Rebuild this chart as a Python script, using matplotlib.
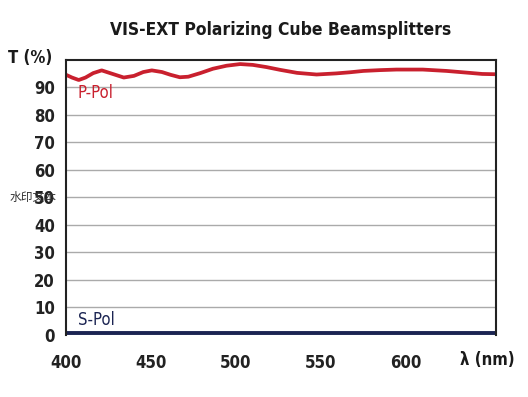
import numpy as np
import matplotlib.pyplot as plt
from matplotlib import font_manager as fm

# P-Pol transmission
wl_p = [400, 403.5, 407.5, 411.5, 416, 421, 427, 434, 440, 445.5, 450.5, 456.5, 461.5,
        467, 472, 479, 486.5, 494.5, 502.5, 510, 518, 526, 536, 547.5, 559, 567, 575,
        585, 594.5, 610, 624, 637.5, 645, 653]
t_p = [94.6, 93.6, 92.7, 93.6, 95.2, 96.2, 95.0, 93.6, 94.2, 95.6, 96.2, 95.6, 94.6,
       93.7, 93.9, 95.2, 96.8, 97.9, 98.5, 98.2, 97.4, 96.4, 95.3, 94.7, 95.1, 95.5, 96.0,
       96.3, 96.5, 96.5, 96.0, 95.3, 94.9, 94.8]

# S-Pol stays near zero
wl_s = [400, 450, 500, 550, 600, 653]
t_s = [0.6, 0.6, 0.6, 0.6, 0.6, 0.6]

xticks = [400, 450, 500, 550, 600]
yticks = [0, 10, 20, 30, 40, 50, 60, 70, 80, 90]

# look for a condensed face, else fall back to plain DejaVu
names = sorted(f.fname for f in fm.fontManager.ttflist)
cond_b = [n for n in names if ('ondensed' in n or 'Narrow' in n) and 'Bold' in n and 'Oblique' not in n and 'Italic' not in n]
cond_r = [n for n in names if ('ondensed' in n or 'Narrow' in n) and 'Bold' not in n and 'Oblique' not in n and 'Italic' not in n]
fb = fm.FontProperties(fname=cond_b[0]) if cond_b else fm.FontProperties(family='DejaVu Sans', weight='bold')
fr = fm.FontProperties(fname=cond_r[0]) if cond_r else fm.FontProperties(family='DejaVu Sans')

red = '#c9202e'
navy = '#1b2452'

fig = plt.figure(figsize=(5.28, 3.97), dpi=100)
ax = fig.add_axes([0.125, 0.157, 0.814, 0.692])

ax.plot(wl_p, t_p, color=red, lw=2.7, solid_capstyle='butt', solid_joinstyle='round')
ax.plot(wl_s, t_s, color=navy, lw=2.8, solid_capstyle='butt', clip_on=False)

ax.set_xlim(400, 653)
ax.set_ylim(0, 100)
ax.set_xticks(xticks)
ax.set_yticks(yticks)
ax.set_xticklabels([str(v) for v in xticks], fontproperties=fb, fontsize=12, color='#222222')
ax.set_yticklabels([str(v) for v in yticks], fontproperties=fb, fontsize=12, color='#222222')
ax.tick_params(length=0, pad=8)
ax.tick_params(axis='x', pad=14)

ax.grid(axis='y', color='#aaaaaa', lw=1)
ax.set_axisbelow(True)
for s in ['left', 'top', 'right']:
    ax.spines[s].set_color('#222222')
    ax.spines[s].set_linewidth(1.5)
ax.spines['bottom'].set_visible(False)

ax.text(407, 86, 'P-Pol', color=red, fontproperties=fr, fontsize=12)
ax.text(407, 3.6, 'S-Pol', color=navy, fontproperties=fr, fontsize=12)

fig.text(0.531, 0.925, 'VIS-EXT Polarizing Cube Beamsplitters', ha='center', va='center',
         fontproperties=fb, fontsize=12.5, color='#1a1a1a')
fig.text(0.015, 0.853, 'T (%)', ha='left', va='center', fontproperties=fb,
         fontsize=12, color='#1a1a1a')
fig.text(0.975, 0.093, 'λ (nm)', ha='right', va='center', fontproperties=fb,
         fontsize=12, color='#1a1a1a')
fig.text(0.018, 0.503, '水印文本', ha='left', va='center',
         family=['Noto Sans CJK SC', 'DejaVu Sans'], fontsize=8.5, color='#333333')

fig.savefig('out.png', dpi=100)
